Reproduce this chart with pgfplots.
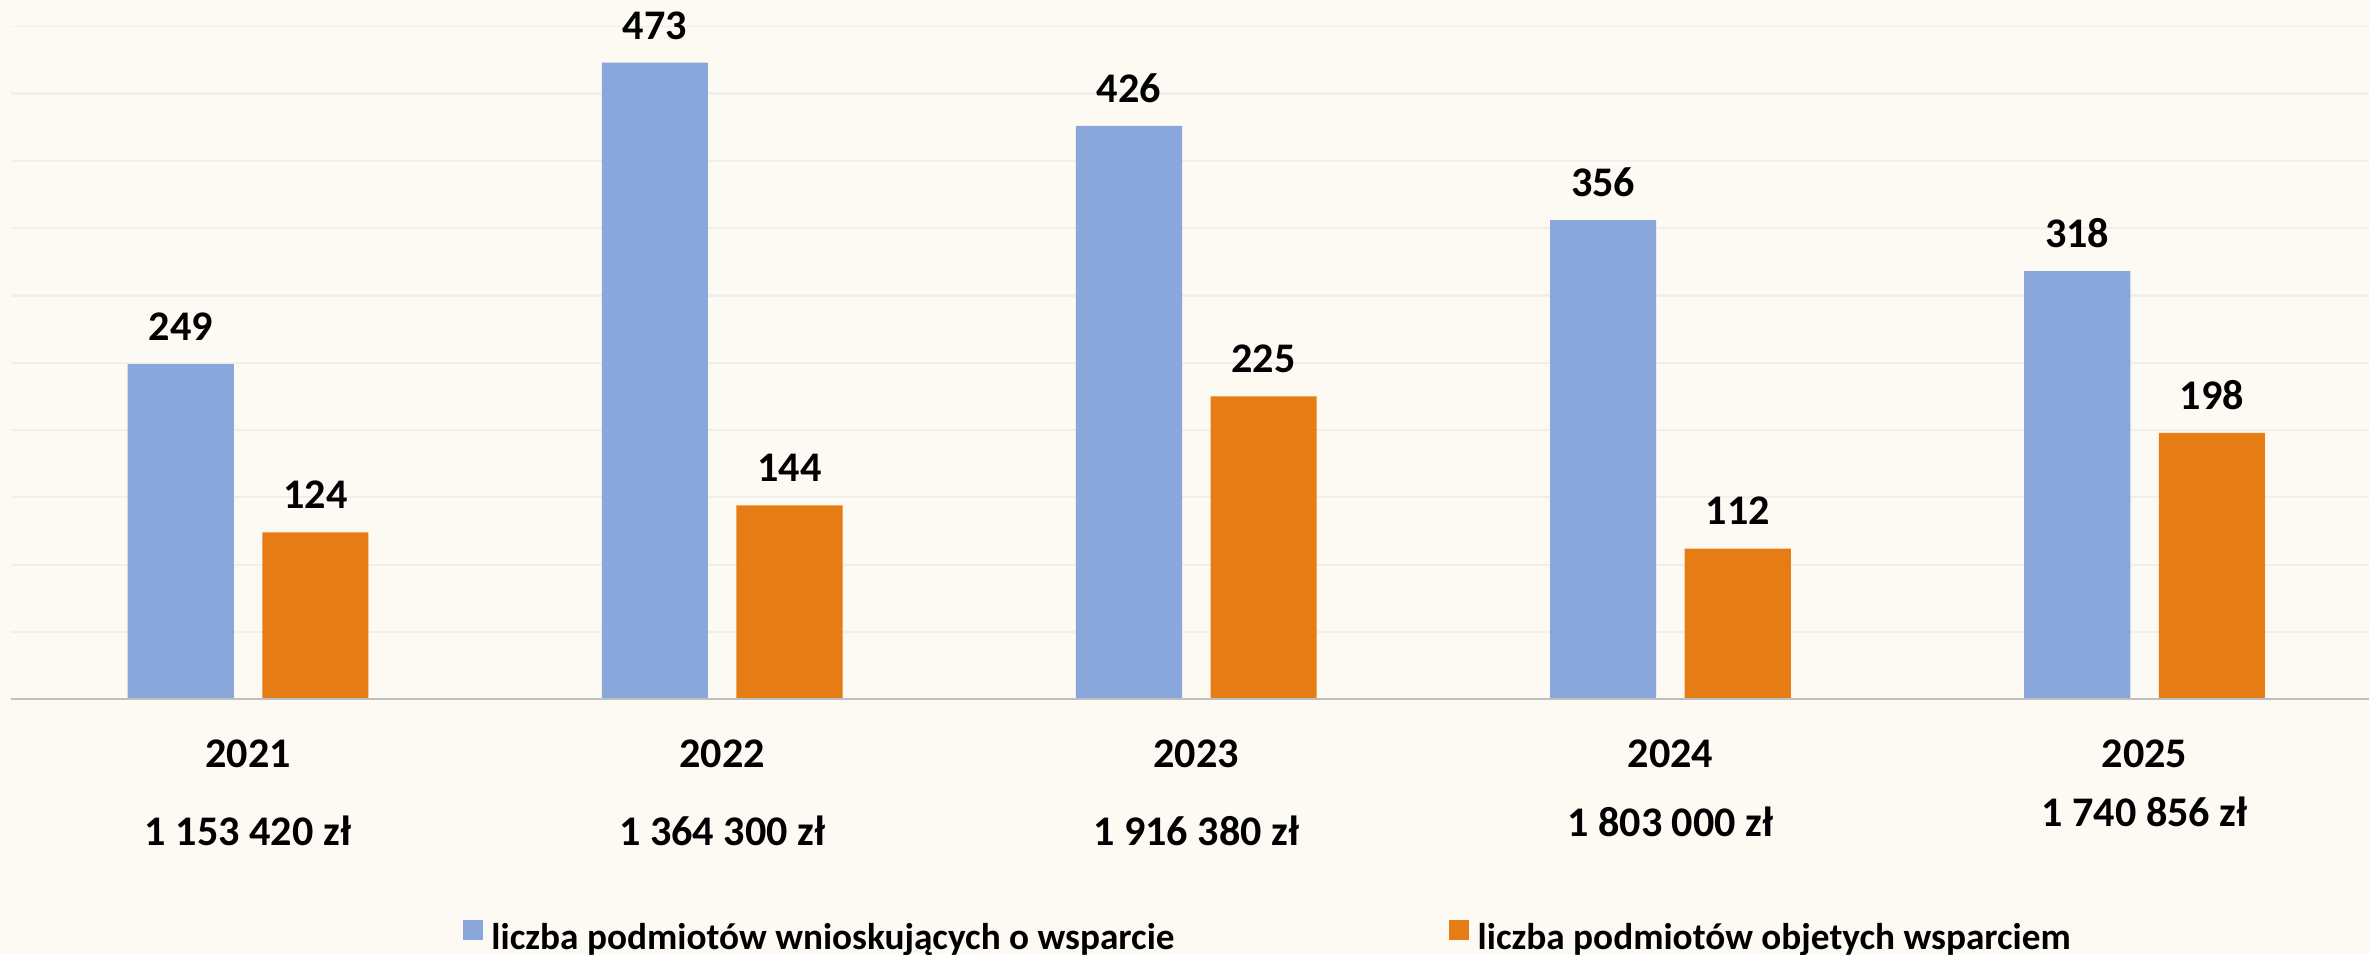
\documentclass[border=0pt]{standalone}
\usepackage{fontspec}
\setmainfont{Carlito}
\usepackage{pgfplots}
\pgfplotsset{compat=1.18}
\definecolor{bg}{HTML}{FDF9F3}
\definecolor{barblue}{HTML}{8AA7DC}
\definecolor{barorange}{HTML}{E67C14}
\definecolor{gridc}{HTML}{F1EFEC}
\definecolor{axisc}{HTML}{BFBFBF}
\pgfplotsset{sqlegend/.style={legend image code/.code={\fill[##1] (0pt,-0.4pt) rectangle (5.7pt,5.3pt);}}}

\begin{document}
\begin{tikzpicture}
\fill[bg] (0,0) rectangle (236.9mm,95.4mm);
\useasboundingbox (0,0) rectangle (236.9mm,95.4mm);
\begin{axis}[
    at={(1.1mm,25.47mm)}, anchor=south west,
    scale only axis, width=235.8mm, height=67.31mm,
    xmin=-0.5, xmax=4.4735, ymin=0, ymax=500,
    axis line style={draw=none},
    ytick=\empty,
    major tick length=0pt,
    xtick={0,...,4},
    xticklabels={{2021\\1 153 420 zł},{2022\\1 364 300 zł},{2023\\1 916 380 zł},
                 {2024\\[-2.55pt]1 803 000 zł},{2025\\[-5.4pt]1 740 856 zł}},
    xticklabel style={align=center, font=\fontsize{12}{22.3}\selectfont\bfseries,
                      anchor=north, yshift=-8.0pt},
    ybar, bar width=30.2pt,
    nodes near coords,
    every node near coord/.append style={font=\fontsize{12}{14}\selectfont\bfseries,
                                         anchor=base, yshift=6.7pt},
    /pgf/number format/assume math mode=true,
    legend columns=2,
    legend style={at={(0.1917,-0.3539)}, anchor=west, draw=none, fill=none,
                  inner sep=0pt, outer sep=0pt, nodes={inner sep=0pt},
                  font=\fontsize{10.6}{12.5}\selectfont\bfseries,
                  column sep=0pt,
                  /tikz/every odd column/.append style={column sep=2.4pt}},
]
% light horizontal gridlines every 50, drawn before the bars
\pgfplotsinvokeforeach{50,100,...,500}{
  \draw[gridc, line width=0.6pt] (axis cs:-0.5,#1) -- (axis cs:4.4735,#1);
}
\addplot[fill=barblue, draw=none, bar shift=-19.15pt, sqlegend]
    coordinates {(0,249) (1,473) (2,426) (3,356) (4,318)};
\addlegendentry{\makebox[272.5pt][l]{liczba podmiotów wnioskujących o wsparcie}}
\addplot[fill=barorange, draw=none, bar shift=19.15pt, sqlegend]
    coordinates {(0,124) (1,144) (2,225) (3,112) (4,198)};
\addlegendentry{liczba podmiotów objetych wsparciem}
\draw[axisc, line width=0.6pt] (rel axis cs:0,0) -- (rel axis cs:1,0);
\end{axis}
\end{tikzpicture}
\end{document}
